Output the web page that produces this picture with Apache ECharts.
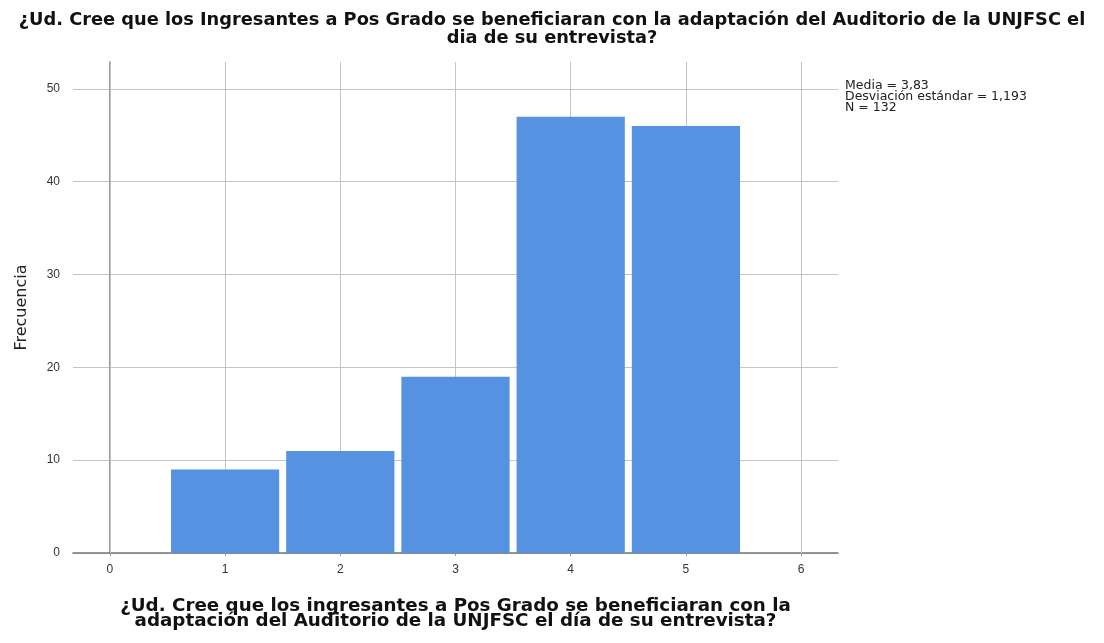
<!DOCTYPE html>
<html>
<head>
<meta charset="utf-8">
<script src="https://cdn.jsdelivr.net/npm/echarts@6/dist/echarts.min.js"></script>
<style>
html,body{margin:0;padding:0;background:#fff;}
#main{width:1104px;height:643px;}
</style>
</head>
<body>
<div id="main"></div>
<script>
// valores del histograma (respuesta 1..5 -> frecuencia)
var categorias = [1, 2, 3, 4, 5];
var frecuencias = [9, 11, 19, 47, 46];
var xTicks = [0, 1, 2, 3, 4, 5, 6];
var estadisticas = ['Media = 3,83', 'Desviación estándar = 1,193', 'N = 132'];

var barData = categorias.map(function (c, i) { return [c, frecuencias[i]]; });

var chart = echarts.init(document.getElementById('main'));
chart.setOption({
	animation: false,
	textStyle: {fontFamily: 'Liberation Sans, Arial, sans-serif'},
	title: {
		text: '¿Ud. Cree que los Ingresantes a Pos Grado se beneficiaran con la adaptación del Auditorio de la UNJFSC el\ndia de su entrevista?',
		left: 'center',
		top: 6,
		textStyle: {fontFamily: 'DejaVu Sans', fontSize: 17.8, fontWeight: 'bold', color: '#111', lineHeight: 18}
	},
	graphic: [{
		type: 'text',
		left: 845,
		top: 79,
		style: {
			text: estadisticas.join('\n'),
			font: '12.5px DejaVu Sans',
			lineHeight: 11,
			fill: '#222'
		}
	}],
	grid: {left: 73, right: 266, top: 62, bottom: 90},
	xAxis: {
		type: 'value',
		min: -0.32,
		max: 6.32,
		name: '¿Ud. Cree que los ingresantes a Pos Grado se beneficiaran con la\nadaptación del Auditorio de la UNJFSC el día de su entrevista?',
		nameLocation: 'middle',
		nameGap: 46,
		nameTextStyle: {fontFamily: 'DejaVu Sans', fontSize: 18.3, fontWeight: 'bold', color: '#111', lineHeight: 15},
		axisLine: {show: true, lineStyle: {color: '#777', width: 1.5}},
		axisTick: {show: true, length: 3, customValues: xTicks, lineStyle: {color: '#999'}},
		axisLabel: {customValues: xTicks, color: '#333', fontSize: 12, margin: 11},
		splitLine: {show: false}
	},
	yAxis: {
		type: 'value',
		min: 0,
		max: 52.9,
		interval: 10,
		name: 'Frecuencia',
		nameLocation: 'middle',
		nameGap: 43,
		nameTextStyle: {fontFamily: 'DejaVu Sans', fontSize: 16, color: '#222'},
		axisLine: {show: true, lineStyle: {color: '#777', width: 1.5}},
		axisTick: {show: false},
		axisLabel: {color: '#333', fontSize: 12, margin: 13, showMaxLabel: false},
		splitLine: {show: true, showMaxLine: false, lineStyle: {color: '#c4c4c4', width: 1}}
	},
	series: [{
		type: 'custom',
		data: barData,
		encode: {x: 0, y: 1},
		renderItem: function (params, api) {
			var x = api.value(0);
			var y = api.value(1);
			var p0 = api.coord([x - 0.5, y]);
			var p1 = api.coord([x + 0.5, 0]);
			var gap = 3.5;
			return {
				type: 'rect',
				shape: {x: p0[0] + gap, y: p0[1], width: p1[0] - p0[0] - 2 * gap, height: p1[1] - p0[1]},
				style: {fill: '#5692e1'}
			};
		},
		z: 3,
		markLine: {
			silent: true,
			symbol: 'none',
			label: {show: false},
			lineStyle: {color: '#c4c4c4', width: 1, type: 'solid'},
			data: xTicks.map(function (t) { return {xAxis: t}; }),
			z: 1
		}
	}]
});
</script>
</body>
</html>
